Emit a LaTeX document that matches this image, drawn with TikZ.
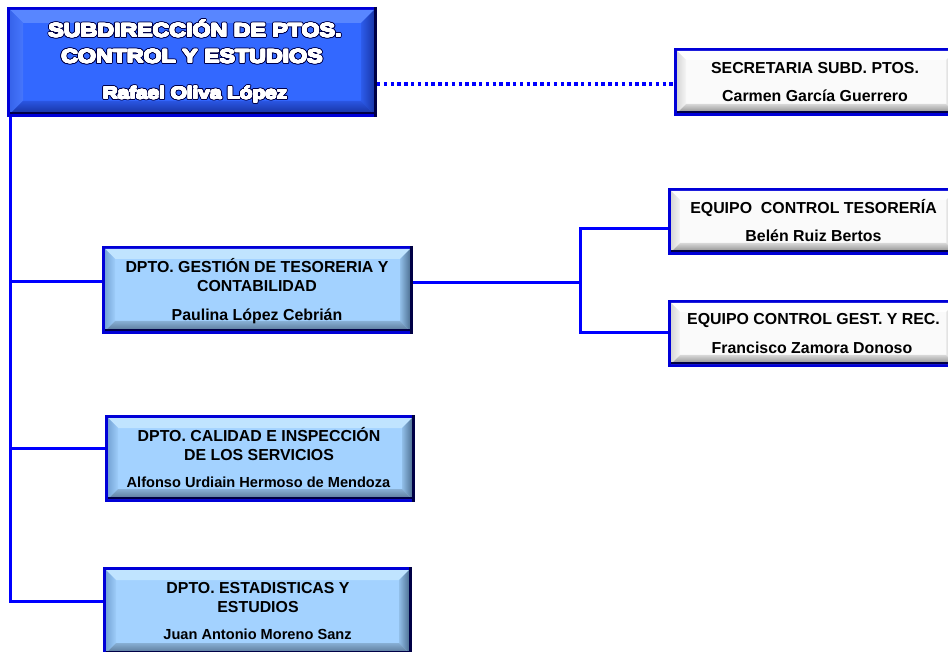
\documentclass[tikz,border=0pt]{standalone}
\usepackage{fontspec}
\setmainfont{Liberation Sans}
\newfontfamily\headfont{Liberation Sans Bold}[FakeStretch=1.22]
\usepackage[copies]{contour}
\contournumber{24}
\usetikzlibrary{calc}
\definecolor{bord}{RGB}{0,0,215}
\definecolor{navy}{RGB}{0,0,70}
\definecolor{lineblue}{RGB}{0,0,255}
% top box palette
\definecolor{topM}{RGB}{51,104,255}
\definecolor{topT}{RGB}{88,134,255}
\definecolor{topLa}{RGB}{55,100,235}
\definecolor{topLb}{RGB}{70,118,252}
\definecolor{topRa}{RGB}{45,92,235}
\definecolor{topRb}{RGB}{25,55,170}
\definecolor{topBa}{RGB}{42,85,225}
\definecolor{topBb}{RGB}{22,50,160}
% light blue palette
\definecolor{ltM}{RGB}{163,210,255}
\definecolor{ltT}{RGB}{192,228,255}
\definecolor{ltLa}{RGB}{118,165,215}
\definecolor{ltLb}{RGB}{158,205,250}
\definecolor{ltRa}{RGB}{145,190,232}
\definecolor{ltRb}{RGB}{80,115,150}
\definecolor{ltBa}{RGB}{135,175,212}
\definecolor{ltBb}{RGB}{88,118,150}
% grey palette
\definecolor{grM}{RGB}{250,250,250}
\definecolor{grT}{RGB}{255,255,255}
\definecolor{grLa}{RGB}{215,215,215}
\definecolor{grLb}{RGB}{245,245,245}
\definecolor{grRa}{RGB}{235,235,235}
\definecolor{grRb}{RGB}{160,160,160}
\definecolor{grBa}{RGB}{215,215,215}
\definecolor{grBb}{RGB}{140,140,140}
\newcommand{\headout}[1]{\contourlength{1.6pt}\contour{navy}{#1}}
\newcommand{\headin}[1]{\contourlength{0.55pt}\contour{white}{#1}}
\newcommand{\bevbox}[7]{%
  \pgfmathsetmacro{\bvW}{#4-#2-3}%
  \pgfmathsetmacro{\bvH}{#5-#3-3}%
  \pgfmathsetmacro{\bvX}{(#2+#4)/2}%
  \pgfmathsetmacro{\bvY}{(#3+#5)/2}%
  \pgfmathsetmacro{\bvIa}{#2+3}%
  \pgfmathsetmacro{\bvIb}{#4-3}%
  \pgfmathsetmacro{\bvJa}{#3+3}%
  \pgfmathsetmacro{\bvJb}{#5-3}%
  \pgfmathsetmacro{\bvKa}{\bvIa+#7}%
  \pgfmathsetmacro{\bvKb}{\bvIb-#7}%
  \pgfmathsetmacro{\bvLa}{\bvJa+#7}%
  \pgfmathsetmacro{\bvLb}{\bvJb-#7}%
  \node[bx, minimum width=\bvW pt, minimum height=\bvH pt, fill=#6M] (#1) at (\bvX,\bvY) {};
  \fill[#6T] (\bvIa,\bvJa) -- (\bvIb,\bvJa) -- (\bvKb,\bvLa) -- (\bvKa,\bvLa) -- cycle;
  \shade[left color=#6La, right color=#6Lb] (\bvIa,\bvJa) -- (\bvKa,\bvLa) -- (\bvKa,\bvLb) -- (\bvIa,\bvJb) -- cycle;
  \shade[left color=#6Ra, right color=#6Rb] (\bvIb,\bvJa) -- (\bvKb,\bvLa) -- (\bvKb,\bvLb) -- (\bvIb,\bvJb) -- cycle;
  \shade[top color=#6Ba, bottom color=#6Bb] (\bvIa,\bvJb) -- (\bvKa,\bvLb) -- (\bvKb,\bvLb) -- (\bvIb,\bvJb) -- cycle;
  \draw[navy, line width=1.6pt] (\bvIa,\bvJb-0.8) -- (\bvIb,\bvJb-0.8);
  \draw[navy, line width=3pt] (#4-1.5,#3) -- (#4-1.5,#5);
}
\begin{document}
\begin{tikzpicture}[x=1pt,y=-1pt,
  bx/.style={draw=bord, line width=3pt, rectangle, inner sep=0pt, outer sep=auto},
  conn/.style={draw=lineblue, line width=3pt},
  dotc/.style={draw=lineblue, line width=3.2pt, dash pattern=on 3.4pt off 3.4pt},
  txt/.style={anchor=base, inner sep=0pt, font=\bfseries\fontsize{15.9}{19}\selectfont},
  txtsm/.style={anchor=base, inner sep=0pt, font=\bfseries\fontsize{14.6}{18}\selectfont},
  head/.style={anchor=base, inner sep=0pt, text=white, font=\headfont\fontsize{19}{23}\selectfont},
  headsh/.style={head, text=navy},
  headsm/.style={head, font=\headfont\fontsize{17}{21}\selectfont},
  headsmsh/.style={headsm, text=navy}]
\fill[white] (0,0) rectangle (948,652);
\useasboundingbox (0,0) rectangle (948,652);
% boxes
\bevbox{top}{7}{7}{377}{117}{top}{13}
\bevbox{sec}{674}{48}{958}{116}{gr}{9}
\bevbox{eqa}{668}{188}{958}{255}{gr}{9}
\bevbox{eqb}{668}{300}{958}{367}{gr}{9}
\bevbox{ges}{102}{246}{413}{334}{lt}{10}
\bevbox{cal}{105}{415}{415}{502}{lt}{10}
\bevbox{est}{103}{567}{412}{656}{lt}{10}
% connectors
\coordinate (b1) at (10,282);
\coordinate (b2) at (10,448);
\coordinate (b3) at (10,601);
\coordinate (d) at (0,84);
\coordinate (j0) at (580,229);
\coordinate (j1) at (580,283);
\coordinate (j2) at (580,333);
\draw[conn] (top.south west -| b1) -- (b3) -- (est.west |- b3);
\draw[conn] (b1) -- (ges.west |- b1);
\draw[conn] (b2) -- (cal.west |- b2);
\draw[conn] (ges.east |- j1) -- (j1);
\draw[conn] (eqa.west |- j0) -- (j0) -- (j2) -- (eqb.west |- j2);
\draw[dotc] (top.east |- d) -- (sec.west |- d);
% texts (outline layer, then white layer)
\node[headsh] (top1s) at (195,37) {\headout{SUBDIRECCIÓN DE PTOS.}};
\node[head] (top1) at (195,37) {\headin{SUBDIRECCIÓN DE PTOS.}};
\node[headsh] (top2s) at (192,63) {\headout{CONTROL Y ESTUDIOS}};
\node[head] (top2) at (192,63) {\headin{CONTROL Y ESTUDIOS}};
\node[headsmsh] (top3s) at (195,99) {\headout{Rafael Oliva López}};
\node[headsm] (top3) at (195,99) {\headin{Rafael Oliva López}};
\node[txt] (sec1) at (815,73.3) {SECRETARIA SUBD. PTOS.};
\node[txt] (sec2) at (815,101.7) {Carmen García Guerrero};
\node[txt] (eqa1) at (813.5,213.3) {EQUIPO~ CONTROL TESORERÍA};
\node[txt] (eqa2) at (813.5,241.7) {Belén Ruiz Bertos};
\node[txt] (eqb1) at (813.5,325) {EQUIPO CONTROL GEST. Y REC.};
\node[txt] (eqb2) at (812,353.3) {Francisco Zamora Donoso};
\node[txt] (ges1) at (257,273) {DPTO. GESTIÓN DE TESORERIA Y};
\node[txt] (ges2) at (257,292) {CONTABILIDAD};
\node[txt] (ges3) at (257,320.7) {Paulina López Cebrián};
\node[txt] (cal1) at (259,441.7) {DPTO. CALIDAD E INSPECCIÓN};
\node[txt] (cal2) at (259,460) {DE LOS SERVICIOS};
\node[txtsm] (cal3) at (258.5,487.3) {Alfonso Urdiain Hermoso de Mendoza};
\node[txt] (est1) at (258,593.3) {DPTO. ESTADISTICAS Y};
\node[txt] (est2) at (258,612.3) {ESTUDIOS};
\node[txtsm] (est3) at (257.5,639.3) {Juan Antonio Moreno Sanz};
\end{tikzpicture}
\end{document}
